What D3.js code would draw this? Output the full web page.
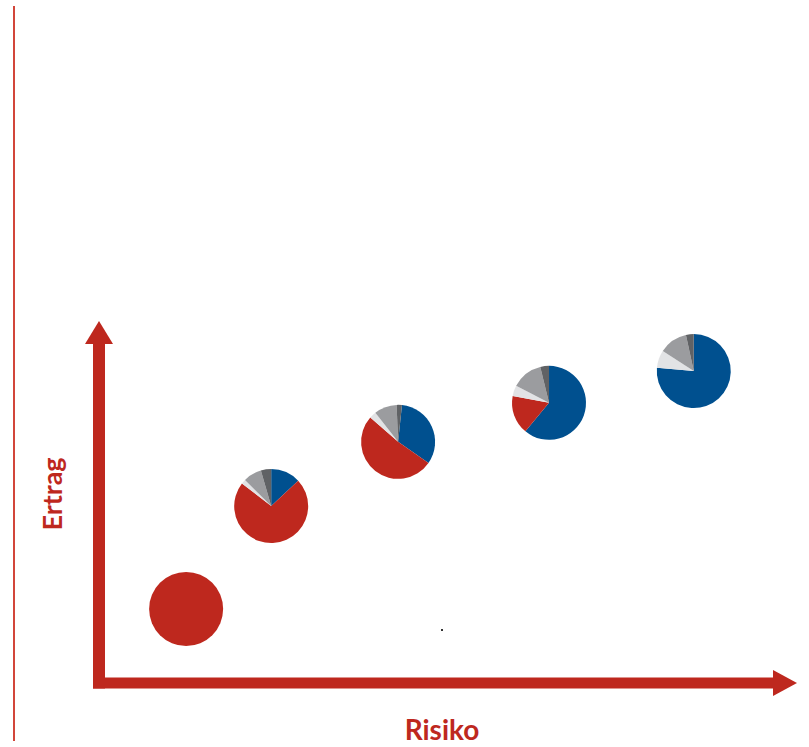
<!DOCTYPE html>
<html>
<head>
<meta charset="utf-8">
<script src="https://cdn.jsdelivr.net/npm/d3@7"></script>
<style>
  body { margin: 0; background: #fff; }
  svg { display: block; }
</style>
</head>
<body>
<div id="chart"></div>
<script>
// portfolio mixes, risk vs. return
const portfolios = ["P1", "P2", "P3", "P4", "P5"];
const risk = [12.7, 25.1, 43.6, 65.6, 86.7];
const ertrag = [20.5, 49.0, 66.8, 77.6, 86.4];
const sliceNames = ["Blau", "Rot", "Hellgrau", "Grau", "Dunkelgrau"];
const blau = [0, 13, 33, 61, 76.4];
const rot = [100, 72.5, 51.8, 17, 0];
const hellgrau = [0, 2, 3, 4.6, 7.8];
const grau = [0, 8, 9.9, 13.6, 12.4];
const dunkelgrau = [0, 4.5, 2.3, 3.8, 3.4];
const rotation = [0, 0, 6, 0, 0]; // first slice angle, degrees

const width = 809, height = 747;
const red = "#be281e";
const colors = ["#00508f", red, "#e2e3e5", "#9b9c9f", "#606265"];

const svg = d3.select("#chart")
  .append("svg")
  .attr("width", width)
  .attr("height", height);

const x = d3.scaleLinear().domain([0, 100]).range([99, 785]);
const y = d3.scaleLinear().domain([0, 100]).range([683, 322]);

// thin rule at the left edge
svg.append("line")
  .attr("x1", 14).attr("x2", 14)
  .attr("y1", 6).attr("y2", 741)
  .attr("stroke", "#d2463a")
  .attr("stroke-width", 2);

// axis arrows
const ax0 = x(0), ay0 = y(0);
svg.append("line")
  .attr("x1", ax0 - 6).attr("x2", 775)
  .attr("y1", ay0).attr("y2", ay0)
  .attr("stroke", red)
  .attr("stroke-width", 11);
svg.append("path")
  .attr("d", `M773,${ay0 - 13}L797,${ay0}L773,${ay0 + 13}Z`)
  .attr("fill", red);

svg.append("line")
  .attr("x1", ax0).attr("x2", ax0)
  .attr("y1", ay0 + 5.5).attr("y2", 342)
  .attr("stroke", red)
  .attr("stroke-width", 12);
svg.append("path")
  .attr("d", `M${ax0 - 14},344L${ax0},321L${ax0 + 14},344Z`)
  .attr("fill", red);

// axis labels
svg.append("text")
  .attr("transform", "translate(62,494) rotate(-90)")
  .attr("text-anchor", "middle")
  .style("font-family", "Lato, 'Open Sans', sans-serif")
  .style("font-weight", "bold")
  .style("font-size", "27px")
  .attr("fill", red)
  .text("Ertrag");

svg.append("text")
  .attr("x", 442).attr("y", 740)
  .attr("text-anchor", "middle")
  .style("font-family", "Lato, 'Open Sans', sans-serif")
  .style("font-weight", "bold")
  .style("font-size", "28px")
  .attr("fill", red)
  .text("Risiko");

// pies
const radius = 37;
const pie = d3.pie().sort(null).value((d) => d);
const arc = d3.arc().innerRadius(0).outerRadius(radius);

portfolios.forEach((p, i) => {
  const values = [blau[i], rot[i], hellgrau[i], grau[i], dunkelgrau[i]];
  const start = (rotation[i] * Math.PI) / 180;
  pie.startAngle(start).endAngle(start + 2 * Math.PI);

  const g = svg.append("g")
    .attr("class", "pie")
    .attr("transform", `translate(${x(risk[i])},${y(ertrag[i])})`);

  g.selectAll("path")
    .data(pie(values).filter((d) => d.value > 0))
    .enter()
    .append("path")
    .attr("d", arc)
    .attr("fill", (d) => colors[d.index]);
});

// stray dot in the original
svg.append("rect")
  .attr("x", 441).attr("y", 629)
  .attr("width", 2).attr("height", 2)
  .attr("fill", "#333");
</script>
</body>
</html>
